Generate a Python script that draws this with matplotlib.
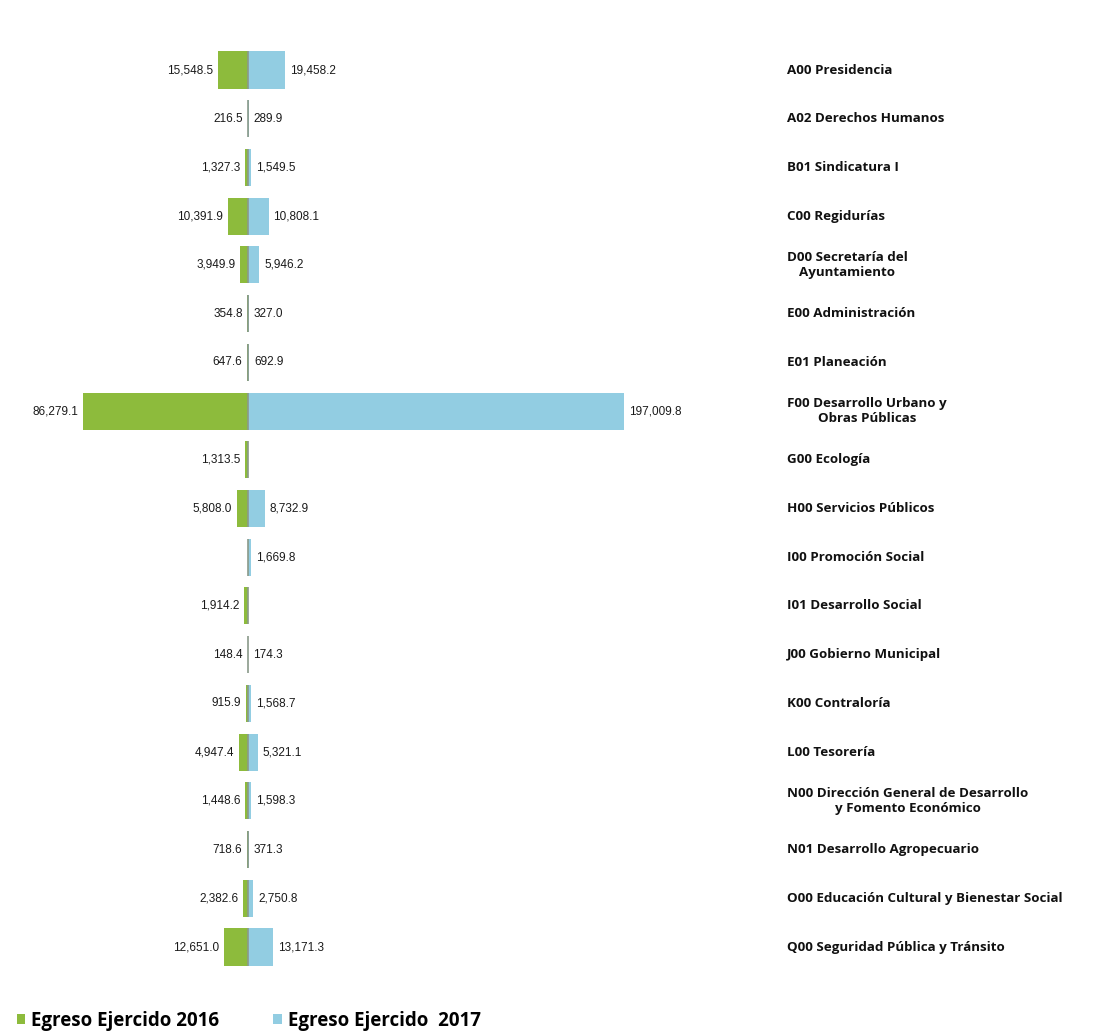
import matplotlib.pyplot as plt
import numpy as np
from matplotlib.patches import Patch

CATEGORIES = [
    "A00 Presidencia",
    "A02 Derechos Humanos",
    "B01 Sindicatura I",
    "C00 Regidurías",
    "D00 Secretaría del\nAyuntamiento",
    "E00 Administración",
    "E01 Planeación",
    "F00 Desarrollo Urbano y\nObras Públicas",
    "G00 Ecología",
    "H00 Servicios Públicos",
    "I00 Promoción Social",
    "I01 Desarrollo Social",
    "J00 Gobierno Municipal",
    "K00 Contraloría",
    "L00 Tesorería",
    "N00 Dirección General de Desarrollo\ny Fomento Económico",
    "N01 Desarrollo Agropecuario",
    "O00 Educación Cultural y Bienestar Social",
    "Q00 Seguridad Pública y Tránsito",
]

EGRESO_2016 = [15548.5, 216.5, 1327.3, 10391.9, 3949.9, 354.8, 647.6, 86279.1,
               1313.5, 5808.0, 0.0, 1914.2, 148.4, 915.9, 4947.4, 1448.6,
               718.6, 2382.6, 12651.0]
EGRESO_2017 = [19458.2, 289.9, 1549.5, 10808.1, 5946.2, 327.0, 692.9, 197009.8,
               0.0, 8732.9, 1669.8, 0.0, 174.3, 1568.7, 5321.1, 1598.3,
               371.3, 2750.8, 13171.3]

SERIES_LABELS = ["Egreso Ejercido 2016", "Egreso Ejercido  2017"]

GREEN = "#8dbb3c"
BLUE = "#92cde2"

W, H = 1100, 1036
fig = plt.figure(figsize=(W / 100, H / 100), dpi=100)

# axes placed so that zero sits at ~248 px and rows run from y=70 to y=947
row_gap = (947 - 70) / 18
top_px = 70 - row_gap / 2
bot_px = 947 + row_gap / 2
ax = fig.add_axes([0, 1 - bot_px / H, 700 / W, (bot_px - top_px) / H])

y = np.arange(len(CATEGORIES))
left = -np.array(EGRESO_2016)
right = np.array(EGRESO_2017)

ax.barh(y, left, height=0.76, color=GREEN, edgecolor="none", zorder=2)
ax.barh(y, right, height=0.76, color=BLUE, edgecolor="none", zorder=2)
ax.vlines(np.zeros(len(y)), y - 0.38, y + 0.38, color="#8a9a8a", linewidth=1.2, zorder=3)

scale = 0.00191  # px per unit
ax.set_xlim(-248 / scale, 452 / scale)
ax.set_ylim(len(CATEGORIES) - 0.5, -0.5)
ax.axis("off")

pad = 2500
for yi, v in zip(y, EGRESO_2016):
    if v > 0:
        ax.text(-v - pad, yi, f"{v:,.1f}", ha="right", va="center",
                fontsize=8.5, family="Liberation Sans", color="#1a1a1a")
for yi, v in zip(y, EGRESO_2017):
    if v > 0:
        ax.text(v + pad, yi, f"{v:,.1f}", ha="left", va="center",
                fontsize=8.5, family="Liberation Sans", color="#1a1a1a")

for yi, name in zip(y, CATEGORIES):
    yf = 1 - (70 + yi * row_gap) / H
    fig.text(787 / W, yf, name, ha="left", va="center", multialignment="center",
             fontsize=9.6, fontweight="bold", family="Open Sans", color="#111111")

handles = [Patch(facecolor=GREEN, label=SERIES_LABELS[0]),
           Patch(facecolor=BLUE, label=SERIES_LABELS[1])]
fig.legend(handles=handles, loc="lower left", bbox_to_anchor=(0.0, -0.011), ncol=2,
           frameon=False, handlelength=0.45, handleheight=0.45, handletextpad=0.3,
           columnspacing=2.9, prop={"family": "Open Sans", "weight": "bold", "size": 13.5})

fig.savefig("out.png", dpi=100)
